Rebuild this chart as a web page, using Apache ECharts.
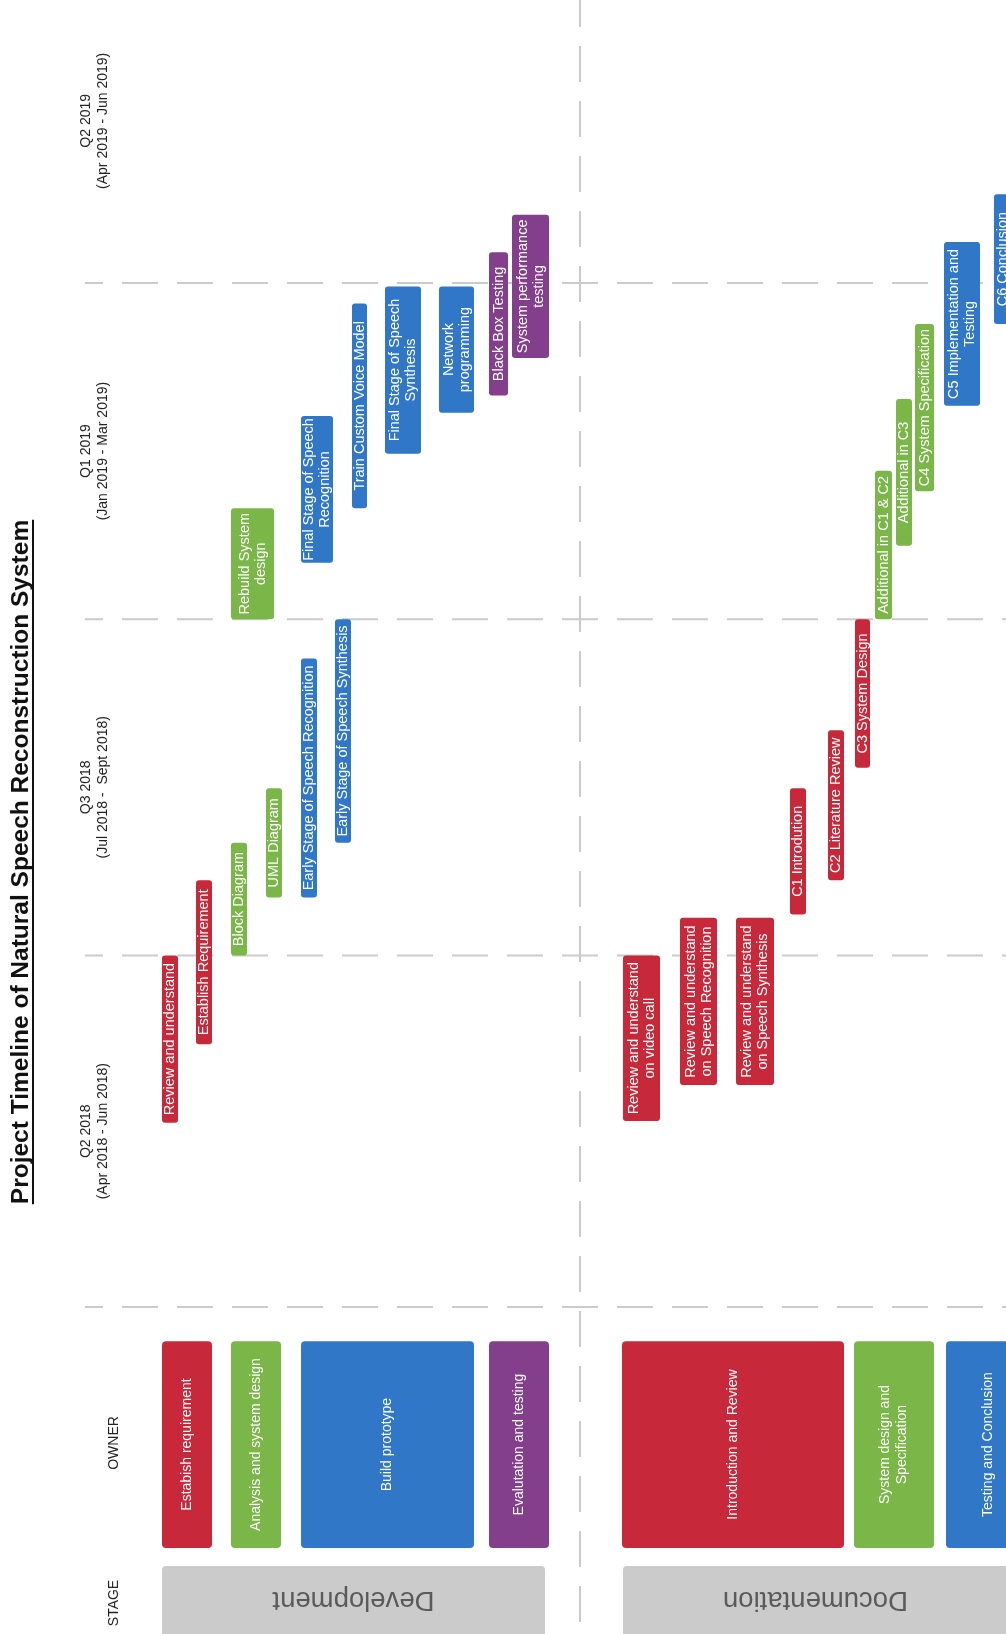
<!DOCTYPE html>
<html>
<head>
<meta charset="utf-8">
<title>Project Timeline of Natural Speech Reconstruction System</title>
<script src="https://cdn.jsdelivr.net/npm/echarts@6/dist/echarts.min.js"></script>
<style>
  html, body { margin: 0; padding: 0; background: #fff; }
  #chart { width: 1006px; height: 1634px; }
</style>
</head>
<body>
<div id="chart"></div>
<script>
// timeline runs bottom -> top, measured in quarter columns (0 = start of Q2 2018)
const quarterLabels = ['Q2 2018', 'Q3 2018', 'Q1 2019', 'Q2 2019'];
const quarterRanges = ['(Apr 2018 - Jun 2018)', '(Jul 2018 -  Sept 2018)', '(Jan 2019 - Mar 2019)', '(Apr 2019 - Jun 2019)'];
const quarterEdges = [0, 1.03, 2.015, 3.0, 3.95];

// owners (header cells) and the lane span each one covers
const ownerNames = ['Estabish requirement', 'Analysis and system design', 'Build prototype', 'Evalutation and testing',
  'Introduction and Review', 'System design and\nSpecification', 'Testing and Conclusion'];
const ownerColor = [0, 1, 2, 3, 0, 1, 2];
const ownerLaneFrom = [162, 231, 301, 489, 622, 854, 946];
const ownerLaneTo = [212, 281, 474, 549, 844, 934, 1030];

const stageNames = ['Development', 'Documentation'];
const stageLaneFrom = [162, 623];
const stageLaneTo = [545, 1008];
const stageDivider = 580;

// tasks
const taskNames = [
  'Review and understand', 'Establish Requirement', 'Block Diagram', 'UML Diagram',
  'Early Stage of Speech Recognition', 'Early Stage of Speech Synthesis', 'Rebuild System\ndesign',
  'Final Stage of Speech\nRecognition', 'Train Custom Voice Model', 'Final Stage of Speech\nSynthesis',
  'Network\nprogramming', 'Black Box Testing', 'System performance\ntesting',
  'Review and understand\non video call', 'Review and understand\non Speech Recognition',
  'Review and understand\non Speech Synthesis', 'C1 Introdution', 'C2 Literature Review', 'C3 System Design',
  'Additional in C1 & C2', 'Additional in C3', 'C4 System Specification', 'C5 Implementation and\nTesting',
  'C6 Conclusion'
];
const taskColor = [0, 0, 1, 1, 2, 2, 1, 2, 2, 2, 2, 3, 3, 0, 0, 0, 0, 0, 0, 1, 1, 1, 2, 2];
const taskStart = [0.54, 0.77, 1.03, 1.20, 1.20, 1.36, 2.015, 2.18, 2.34, 2.50, 2.62, 2.67, 2.78,
  0.545, 0.65, 0.65, 1.15, 1.25, 1.58, 2.015, 2.23, 2.39, 2.64, 2.88];
const taskEnd = [1.03, 1.25, 1.36, 1.52, 1.90, 2.015, 2.34, 2.61, 2.94, 2.99, 2.99, 3.09, 3.20,
  1.03, 1.14, 1.14, 1.52, 1.69, 2.015, 2.45, 2.66, 2.88, 3.12, 3.26];
const taskLaneFrom = [162, 196, 231, 266, 301, 335, 231, 301, 352, 385, 439, 489, 512,
  623, 680, 736, 790, 828, 855, 875, 896, 915, 944, 994];
const taskLaneTo = [178, 212, 247, 282, 317, 351, 274, 333, 367, 421, 474, 508, 549,
  660, 717, 774, 806, 844, 870, 892, 912, 934, 980, 1012];

const palette = ['#c8293a', '#7ab648', '#3177c8', '#843f8c'];
const FONT = '"Liberation Sans", Arial, Helvetica, sans-serif';
const titleText = 'Project Timeline of Natural Speech Reconstruction System';

const chart = echarts.init(document.getElementById('chart'));

// box with centred text, rotated like the rest of the sheet
function boxItem(api, color, text, fontSize, lineHeight, r, textRot, textFill) {
  const a = api.coord([api.value(0), api.value(3)]);
  const b = api.coord([api.value(1), api.value(2)]);
  const w = b[0] - a[0], h = b[1] - a[1];
  return {
    type: 'group',
    children: [
      { type: 'rect', shape: { x: a[0], y: a[1], width: w, height: h, r: r }, style: { fill: color } },
      {
        type: 'text', x: a[0] + w / 2, y: a[1] + h / 2, rotation: textRot,
        style: {
          text: text, fill: textFill, fontSize: fontSize, fontFamily: FONT,
          align: 'center', verticalAlign: 'middle', lineHeight: lineHeight
        }
      }
    ]
  };
}

const measure = document.createElement('canvas').getContext('2d');
measure.font = 'bold 24.5px ' + FONT;
const titleLen = measure.measureText(titleText).width;
const titleCY = 862;

const option = {
  animation: false,
  backgroundColor: '#fff',
  grid: { left: 0, right: 0, top: 0, bottom: 0 },
  xAxis: { type: 'value', min: 0, max: 1006, show: false },
  yAxis: { type: 'value', min: -0.958, max: 3.829, show: false },
  graphic: [
    {
      type: 'text', x: 21, y: titleCY, rotation: Math.PI / 2,
      style: { text: titleText, fill: '#111', fontSize: 24.5, fontWeight: 'bold', fontFamily: FONT, align: 'center', verticalAlign: 'middle' }
    },
    {
      type: 'line', shape: { x1: 33, y1: titleCY - titleLen / 2, x2: 33, y2: titleCY + titleLen / 2 },
      style: { stroke: '#111', lineWidth: 2 }
    },
    {
      type: 'text', x: 114, y: 1443, rotation: Math.PI / 2,
      style: { text: 'OWNER', fill: '#222', fontSize: 14, fontFamily: FONT, align: 'center', verticalAlign: 'middle' }
    },
    {
      type: 'text', x: 114, y: 1603, rotation: Math.PI / 2,
      style: { text: 'STAGE', fill: '#222', fontSize: 14, fontFamily: FONT, align: 'center', verticalAlign: 'middle' }
    }
  ],
  series: [
    {
      // quarter boundaries
      type: 'custom', silent: true, z: 1,
      data: quarterEdges.slice(0, 4).map(v => [v]),
      encode: { y: 0 },
      renderItem: function (params, api) {
        const p0 = api.coord([85, api.value(0)]);
        const p1 = api.coord([1006, api.value(0)]);
        return {
          type: 'line', shape: { x1: p0[0], y1: p0[1], x2: p1[0], y2: p1[1] },
          style: { stroke: '#cbcbcb', lineWidth: 2, lineDash: [36, 19], lineDashOffset: 18 }
        };
      }
    },
    {
      // stage divider
      type: 'custom', silent: true, z: 1,
      data: [[stageDivider]],
      encode: { x: 0 },
      renderItem: function (params, api) {
        const p0 = api.coord([api.value(0), 3.829]);
        const p1 = api.coord([api.value(0), -0.958]);
        return {
          type: 'line', shape: { x1: p0[0], y1: p0[1], x2: p1[0], y2: p1[1] },
          style: { stroke: '#cbcbcb', lineWidth: 2, lineDash: [36, 19], lineDashOffset: 9 }
        };
      }
    },
    {
      // quarter headings
      type: 'custom', silent: true, z: 2,
      data: quarterLabels.map((q, i) => [95, (quarterEdges[i] + quarterEdges[i + 1]) / 2]),
      encode: { x: 0, y: 1 },
      renderItem: function (params, api) {
        const p = api.coord([api.value(0), api.value(1)]);
        const i = params.dataIndex;
        return {
          type: 'text', x: p[0], y: p[1], rotation: Math.PI / 2,
          style: {
            text: quarterLabels[i] + '\n' + quarterRanges[i], fill: '#222', fontSize: 14, fontFamily: FONT,
            align: 'center', verticalAlign: 'middle', lineHeight: 17
          }
        };
      }
    },
    {
      // owner cells
      type: 'custom', silent: true, z: 3,
      data: ownerNames.map((n, i) => [ownerLaneFrom[i], ownerLaneTo[i], -0.706, -0.100]),
      encode: { x: [0, 1], y: [2, 3] },
      renderItem: function (params, api) {
        const i = params.dataIndex;
        return boxItem(api, palette[ownerColor[i]], ownerNames[i], 14, 17, 4, Math.PI / 2, '#fff');
      }
    },
    {
      // stage cells
      type: 'custom', silent: true, z: 3,
      data: stageNames.map((n, i) => [stageLaneFrom[i], stageLaneTo[i], -0.958, -0.759]),
      encode: { x: [0, 1], y: [2, 3] },
      renderItem: function (params, api) {
        const i = params.dataIndex;
        return boxItem(api, '#cbcbcb', stageNames[i], 27.5, 30, [4, 4, 0, 0], Math.PI, '#5a5a5a');
      }
    },
    {
      // tasks
      type: 'custom', silent: true, z: 4,
      data: taskNames.map((n, i) => [taskLaneFrom[i], taskLaneTo[i], taskStart[i], taskEnd[i]]),
      encode: { x: [0, 1], y: [2, 3] },
      renderItem: function (params, api) {
        const i = params.dataIndex;
        return boxItem(api, palette[taskColor[i]], taskNames[i], 14.5, 16, 3, Math.PI / 2, '#fff');
      }
    }
  ]
};

chart.setOption(option);
</script>
</body>
</html>
